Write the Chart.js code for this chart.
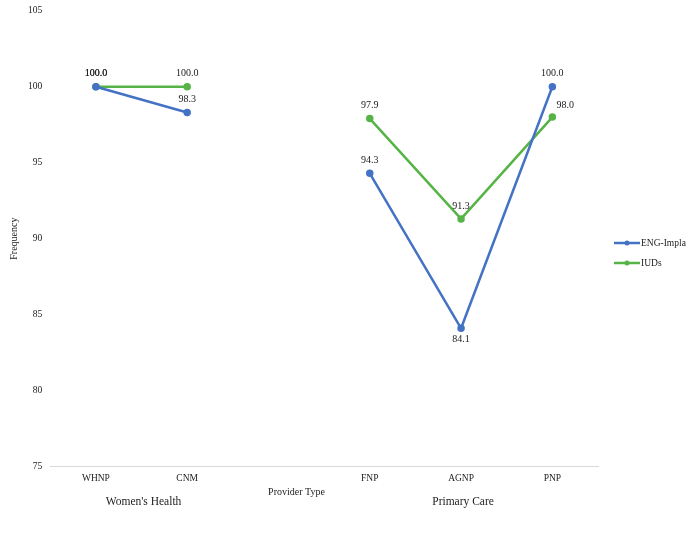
<!DOCTYPE html>
<html>
<head>
<meta charset="utf-8">
<script src="https://cdn.jsdelivr.net/npm/chart.js@4/dist/chart.umd.min.js"></script>
<style>
    html, body { margin: 0; padding: 0; background: #fff; overflow: hidden; }
    #wrap { width: 686px; height: 546px; margin-top: -3px; }
</style>
</head>
<body>
<div id="wrap"><canvas id="providerChart"></canvas></div>
<script>
// categories (blank slot separates the two groups)
const providers = ['WHNP', 'CNM', '', 'FNP', 'AGNP', 'PNP'];
const groups = [
    { name: "Women's Health", from: 0, to: 1 },
    { name: 'Primary Care', from: 3, to: 5 }
];
const engImplant = [100.0, 98.3, null, 94.3, 84.1, 100.0];
const iuds = [100.0, 100.0, null, 97.9, 91.3, 98.0];
const yTicks = [75, 80, 85, 90, 95, 100, 105];

// where each value label sits relative to its point
const engLabelPos = ['top', 'top', 'top', 'top', 'bottom', 'top'];
const iudLabelPos = ['top', 'top', 'top', 'top', 'top', 'topright'];

const serif = '"Liberation Serif", "DejaVu Serif", serif';
const blue = '#4472C4';
const green = '#56B447';

const extrasPlugin = {
    id: 'extras',
    afterDatasetsDraw(chart) {
        const ctx = chart.ctx;
        const x = chart.scales.x;
        const axisY = x.top;
        ctx.save();
        ctx.fillStyle = '#222';
        ctx.textAlign = 'center';
        ctx.textBaseline = 'middle';

        // value labels
        ctx.font = '10px ' + serif;
        const posLists = [engLabelPos, iudLabelPos];
        chart.data.datasets.forEach(function (ds, di) {
            const meta = chart.getDatasetMeta(di);
            meta.data.forEach(function (pt, i) {
                const v = ds.data[i];
                if (v === null) return;
                let dx = 0, dy = -13;
                if (posLists[di][i] === 'bottom') dy = 11;
                if (posLists[di][i] === 'topright') { dx = 13; dy = -12; }
                ctx.fillText(v.toFixed(1), pt.x + dx, pt.y + dy);
            });
        });

        // axis title and group labels
        ctx.font = '10px ' + serif;
        ctx.fillText('Provider Type', x.getPixelForValue(2) + 18, axisY + 26);
        ctx.font = '11.5px ' + serif;
        groups.forEach(function (g) {
            const cx = (x.getPixelForValue(g.from) + x.getPixelForValue(g.to)) / 2;
            ctx.fillText(g.name, cx + 2, axisY + 35);
        });

        // legend
        const items = [{ text: 'ENG-Impla', color: blue }, { text: 'IUDs', color: green }];
        ctx.font = '9.5px ' + serif;
        ctx.textAlign = 'left';
        items.forEach(function (it, i) {
            const ly = 246 + i * 20;
            ctx.strokeStyle = it.color;
            ctx.lineWidth = 2.5;
            ctx.beginPath();
            ctx.moveTo(614, ly);
            ctx.lineTo(640, ly);
            ctx.stroke();
            ctx.fillStyle = it.color;
            ctx.beginPath();
            ctx.arc(627, ly, 2.5, 0, Math.PI * 2);
            ctx.fill();
            ctx.fillStyle = '#222';
            ctx.fillText(it.text, 641, ly);
        });
        ctx.restore();
    }
};

const ctx = document.getElementById('providerChart').getContext('2d');
new Chart(ctx, {
    type: 'line',
    data: {
        labels: providers,
        datasets: [
            {
                label: 'ENG-Implant',
                data: engImplant,
                borderColor: blue,
                backgroundColor: blue,
                borderWidth: 2.5,
                pointRadius: 2.5,
                spanGaps: false
            },
            {
                label: 'IUDs',
                data: iuds,
                borderColor: green,
                backgroundColor: green,
                borderWidth: 2.5,
                pointRadius: 2.5,
                spanGaps: false
            }
        ]
    },
    options: {
        responsive: true,
        maintainAspectRatio: false,
        animation: false,
        layout: {
            padding: { left: 8, right: 88, top: 0, bottom: 53 }
        },
        scales: {
            x: {
                offset: true,
                grid: { display: false, drawTicks: false, tickLength: 0 },
                border: { color: '#d9d9d9', width: 1 },
                ticks: {
                    color: '#222',
                    font: { family: serif, size: 9.5 },
                    padding: 6
                }
            },
            y: {
                min: 75,
                max: 105,
                afterBuildTicks: function (axis) {
                    axis.ticks = yTicks.map(function (v) { return { value: v }; });
                },
                grid: { display: false, drawTicks: false, tickLength: 0 },
                border: { display: false },
                ticks: {
                    color: '#222',
                    font: { family: serif, size: 9.5 },
                    padding: 8
                },
                title: {
                    display: true,
                    text: 'Frequency',
                    color: '#222',
                    font: { family: serif, size: 10 },
                    padding: 0
                }
            }
        },
        plugins: {
            legend: { display: false },
            tooltip: { enabled: false }
        }
    },
    plugins: [extrasPlugin]
});
</script>
</body>
</html>
